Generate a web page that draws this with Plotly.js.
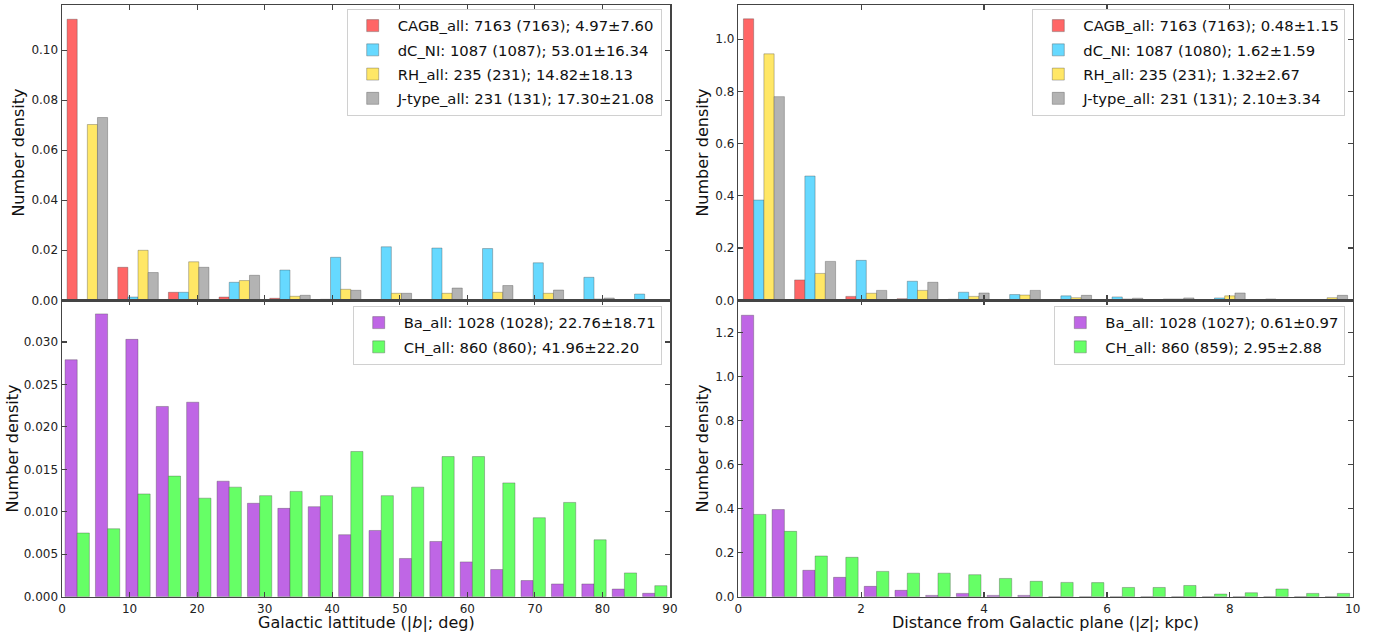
<!DOCTYPE html>
<html><head><meta charset="utf-8">
<script src="https://cdn.plot.ly/plotly-3.0.1.min.js"></script>
<style>html,body{margin:0;padding:0;background:#fff}#g{width:1385px;height:636px}</style>
</head><body><div id="g"></div>
<script>
// ---- data ----
const latBinsTop = 12, latMax = 90;       // 7.5 deg bins
const latBinsBot = 20;                    // 4.5 deg bins
const zBinsTop = 12, zMax = 10;           // 0.833 kpc bins
const zBinsBot = 20;                      // 0.5 kpc bins

const namesTopLeft = ["CAGB_all: 7163 (7163); 4.97±7.60","dC_NI: 1087 (1087); 53.01±16.34","RH_all: 235 (231); 14.82±18.13","J-type_all: 231 (131); 17.30±21.08"];
const namesTopRight = ["CAGB_all: 7163 (7163); 0.48±1.15","dC_NI: 1087 (1080); 1.62±1.59","RH_all: 235 (231); 1.32±2.67","J-type_all: 231 (131); 2.10±3.34"];
const namesBotLeft = ["Ba_all: 1028 (1028); 22.76±18.71","CH_all: 860 (860); 41.96±22.20"];
const namesBotRight = ["Ba_all: 1028 (1027); 0.61±0.97","CH_all: 860 (859); 2.95±2.88"];
const yTitle = "Number density";
const xTitleLat = "Galactic lattitude (|<i>b</i>|; deg)";
const xTitleZ = "Distance from Galactic plane (|<i>z</i>|; kpc)";

const cagbLat = [0.1124,0.0132,0.0032,0.0013,0.0008,0.0004,0.0003,0.0001,0.0001,0,0,0];
const dcLat   = [0,0.0013,0.0032,0.0072,0.0121,0.0172,0.0214,0.0209,0.0207,0.0150,0.0092,0.0025];
const rhLat   = [0.0703,0.0200,0.0154,0.0079,0.0016,0.0044,0.0028,0.0028,0.0032,0.0028,0.0005,0];
const jLat    = [0.0731,0.0111,0.0132,0.0100,0.0020,0.0040,0.0028,0.0049,0.0059,0.0041,0.0009,0];

const cagbZ = [1.078,0.078,0.015,0.006,0.004,0.003,0.001,0.001,0,0.001,0,0];
const dcZ   = [0.384,0.476,0.153,0.073,0.031,0.022,0.017,0.013,0.005,0.009,0.005,0];
const rhZ   = [0.944,0.103,0.027,0.038,0.015,0.020,0.010,0.005,0.005,0.017,0,0.010];
const jZ    = [0.780,0.149,0.038,0.069,0.028,0.038,0.019,0.008,0.009,0.028,0,0.019];

const baLat = [0.0279,0.0333,0.0303,0.0224,0.0229,0.0136,0.0110,0.0104,0.0106,0.0073,0.0078,0.0045,0.0065,0.0041,0.0032,0.0019,0.0015,0.0015,0.0009,0.0004];
const chLat = [0.0075,0.0080,0.0121,0.0142,0.0116,0.0129,0.0119,0.0124,0.0119,0.0171,0.0119,0.0129,0.0165,0.0165,0.0134,0.0093,0.0111,0.0067,0.0028,0.0013];

const baZ = [1.279,0.396,0.120,0.088,0.047,0.029,0.006,0.015,0.006,0.006,0,0,0,0,0,0,0,0,0,0];
const chZ = [0.374,0.297,0.185,0.179,0.115,0.107,0.107,0.100,0.083,0.070,0.065,0.064,0.042,0.042,0.051,0.012,0.018,0.035,0.015,0.015];

const colorsTop = ["#ff6666","#66d9ff","#ffe766","#b3b3b3"];
const colorsBot = ["#bf66e5","#66ff66"];

// ---- build ----
function centers(n, max){const w=max/n;return Array.from({length:n},(_,i)=>w*(i+0.5));}
const edge = {color:"rgba(70,70,70,0.35)", width:1};
const traces = [];
let g = 0;
function add(vals, names, colors, xa, ya, n, max, leg){
  const xc = centers(n,max);
  vals.forEach((v,i)=>traces.push({type:"bar",x:xc,y:v,name:names[i],xaxis:xa,yaxis:ya,
    marker:{color:colors[i],line:edge},legend:leg,legendgroup:"g"+(g++),hoverinfo:"skip"}));
}
add([cagbLat,dcLat,rhLat,jLat], namesTopLeft, colorsTop, "x","y", latBinsTop, latMax, "legend");
add([cagbZ,dcZ,rhZ,jZ], namesTopRight, colorsTop, "x2","y2", zBinsTop, zMax, "legend2");
add([baLat,chLat], namesBotLeft, colorsBot, "x3","y3", latBinsBot, latMax, "legend3");
add([baZ,chZ], namesBotRight, colorsBot, "x4","y4", zBinsBot, zMax, "legend4");

const W=1385,H=636;
const xL=[62/W,670/W], xR=[738.3/W,1352.7/W];
const yT=[1-300.3/H,1-5/H], yB=[1-596.7/H,1-300.3/H];
const ax = {showline:true, mirror:"allticks", linecolor:"#444", linewidth:1.5, ticks:"inside",
  ticklen:5, tickwidth:1.2, tickcolor:"#444", showgrid:false, zeroline:false, automargin:false,
  tickfont:{size:12,color:"#222"}};
const tfont = {size:16,color:"#111"};
const legBase = {bgcolor:"rgba(255,255,255,0.8)", bordercolor:"#d0d0d0", borderwidth:1,
  font:{size:14.8,color:"#111"}, xanchor:"right", yanchor:"top", tracegroupgap:2, itemwidth:40};

function ytitle(px, py){return {text:yTitle, textangle:-90, xref:"paper", yref:"paper", x:px/W, y:1-py/H,
  xanchor:"center", yanchor:"middle", showarrow:false, font:tfont};}
function xtitle(txt, px, py){return {text:txt, xref:"paper", yref:"paper", x:px/W, y:1-py/H,
  xanchor:"center", yanchor:"middle", showarrow:false, font:tfont};}

const layout = {
  width:W, height:H, margin:{l:0,r:0,t:0,b:0}, paper_bgcolor:"#fff", plot_bgcolor:"#fff",
  font:{family:"DejaVu Sans, sans-serif"}, barmode:"group", bargap:0.2, bargroupgap:0,
  xaxis: Object.assign({}, ax, {domain:xL, anchor:"y", range:[0,90], dtick:10, showticklabels:false}),
  yaxis: Object.assign({}, ax, {domain:yT, anchor:"x", range:[0,0.1181], dtick:0.02, tickformat:".2f"}),
  xaxis2: Object.assign({}, ax, {domain:xR, anchor:"y2", range:[0,10], dtick:2, showticklabels:false}),
  yaxis2: Object.assign({}, ax, {domain:yT, anchor:"x2", range:[0,1.131], dtick:0.2, tickformat:".1f"}),
  xaxis3: Object.assign({}, ax, {domain:xL, anchor:"y3", range:[0,90], dtick:10}),
  yaxis3: Object.assign({}, ax, {domain:yB, anchor:"x3", range:[0,0.0349], dtick:0.005, tickformat:".3f"}),
  xaxis4: Object.assign({}, ax, {domain:xR, anchor:"y4", range:[0,10], dtick:2}),
  yaxis4: Object.assign({}, ax, {domain:yB, anchor:"x4", range:[0,1.347], dtick:0.2, tickformat:".1f"}),
  legend: Object.assign({}, legBase, {x:661.7/W, y:1-8.5/H}),
  legend2: Object.assign({}, legBase, {x:1345.3/W, y:1-8.5/H}),
  legend3: Object.assign({}, legBase, {x:661.7/W, y:1-305.5/H}),
  legend4: Object.assign({}, legBase, {x:1345.3/W, y:1-305.5/H}),
  annotations:[ytitle(19,152.6), ytitle(12,448.5), ytitle(703,152.6), ytitle(702,448.5),
    xtitle(xTitleLat,366,622), xtitle(xTitleZ,1045.5,622)],
  showlegend:true
};
Plotly.newPlot("g", traces, layout, {staticPlot:true, displayModeBar:false});
</script></body></html>
